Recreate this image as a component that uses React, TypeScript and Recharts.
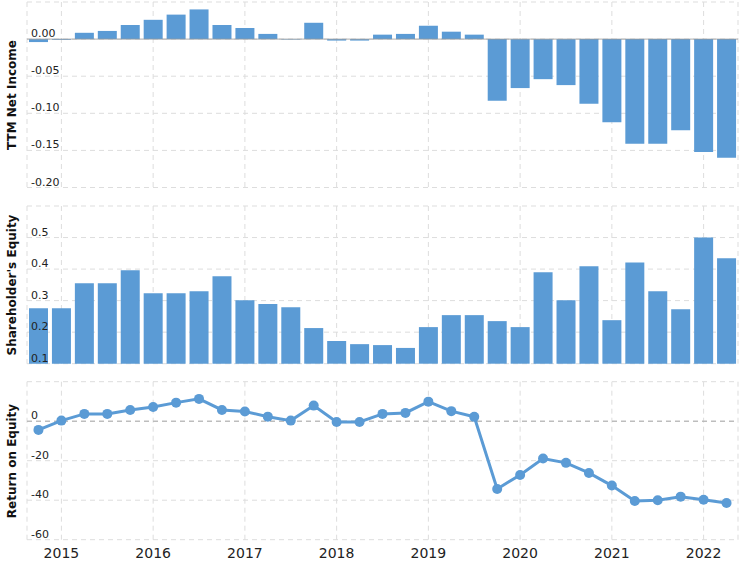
import {
  BarChart,
  Bar,
  LineChart,
  Line,
  XAxis,
  YAxis,
  CartesianGrid,
  ReferenceLine,
} from 'recharts'

// quarter ends, one bar / point each
const quarters = [
  '2014-09-30', '2014-12-31',
  '2015-03-31', '2015-06-30', '2015-09-30', '2015-12-31',
  '2016-03-31', '2016-06-30', '2016-09-30', '2016-12-31',
  '2017-03-31', '2017-06-30', '2017-09-30', '2017-12-31',
  '2018-03-31', '2018-06-30', '2018-09-30', '2018-12-31',
  '2019-03-31', '2019-06-30', '2019-09-30', '2019-12-31',
  '2020-03-31', '2020-06-30', '2020-09-30', '2020-12-31',
  '2021-03-31', '2021-06-30', '2021-09-30', '2021-12-31',
  '2022-03-31',
]

const yearQuarters = [
  '2014-12-31', '2015-12-31', '2016-12-31', '2017-12-31',
  '2018-12-31', '2019-12-31', '2020-12-31', '2021-12-31',
]
const yearLabels = ['2015', '2016', '2017', '2018', '2019', '2020', '2021', '2022']

const netIncome = [
  -0.004, -0.001, 0.0085, 0.011, 0.019, 0.026, 0.033, 0.04, 0.019, 0.015,
  0.007, -0.0006, 0.022, -0.002, -0.002, 0.006, 0.007, 0.018, 0.01, 0.006,
  -0.083, -0.066, -0.054, -0.062, -0.087, -0.112, -0.141, -0.141, -0.123, -0.152,
  -0.16,
]

const equity = [
  0.276, 0.276, 0.355, 0.355, 0.396, 0.323, 0.323, 0.33, 0.377, 0.301,
  0.289, 0.279, 0.213, 0.172, 0.162, 0.159, 0.15, 0.216, 0.254, 0.254,
  0.235, 0.216, 0.39, 0.301, 0.409, 0.238, 0.421, 0.33, 0.273, 0.5,
  0.434,
]

const roe = [
  -4.4, 0.3, 3.7, 3.7, 5.7, 7.2, 9.4, 11.3, 5.7, 4.9,
  2.3, 0.3, 7.9, -0.4, -0.4, 3.7, 4.2, 9.9, 5.1, 2.2,
  -34.3, -27.2, -18.9, -21.1, -26.2, -32.6, -40.4, -40.0, -38.2, -39.8,
  -41.4,
]

const incomeTicks = [-0.2, -0.15, -0.1, -0.05, 0, 0.05]
const equityTicks = [0.1, 0.2, 0.3, 0.4, 0.5, 0.6]
const roeTicks = [-60, -40, -20, 0, 20]

const data = quarters.map((q, i) => ({
  q,
  income: netIncome[i],
  equity: equity[i],
  roe: roe[i],
}))

const BLUE = '#5b9bd5'
const GRID = '#dddddd'
const FONT = '"DejaVu Sans", Verdana, sans-serif'
const W = 744
const MARGIN_L = 27
const MARGIN_R = 6
const HALF_BAND = (W - MARGIN_L - MARGIN_R) / quarters.length / 2

function insideTick(format: (v: number) => string, skip: number) {
  return (props: any) => {
    const { y, payload } = props
    if (Math.abs(payload.value - skip) < 1e-9) return <g />
    return (
      <text x={31} y={y - 2} fontSize={11} fill="#222" fontFamily={FONT}>
        {format(payload.value)}
      </text>
    )
  }
}

function yearTick(q: string) {
  const idx = yearQuarters.indexOf(q)
  return idx >= 0 ? yearLabels[idx] : ''
}

function Title({ text, cy }: { text: string; cy: number }) {
  return (
    <div
      style={{
        position: 'absolute',
        left: 11.5,
        top: cy,
        transform: 'translate(-50%, -50%) rotate(-90deg)',
        whiteSpace: 'nowrap',
        fontFamily: FONT,
        fontWeight: 'bold',
        fontSize: 12,
        color: '#111',
      }}
    >
      {text}
    </div>
  )
}

export default function App() {
  return (
    <div style={{ position: 'absolute', left: 0, top: 0, width: W, height: 566, background: '#fff' }}>
      <div style={{ position: 'absolute', left: 0, top: 0 }}>
        <BarChart width={W} height={190} data={data} margin={{ top: 2, right: MARGIN_R, left: MARGIN_L, bottom: 2.5 }} barSize={19}>
          <CartesianGrid stroke={GRID} strokeDasharray="5 4" />
          <XAxis dataKey="q" hide ticks={yearQuarters} />
          <YAxis
            mirror
            width={40}
            domain={[-0.2, 0.05]}
            ticks={incomeTicks}
            interval={0}
            axisLine={false}
            tickLine={false}
            tick={insideTick((v) => v.toFixed(2), 0.05)}
          />
          <Bar dataKey="income" fill={BLUE} isAnimationActive={false} />
          <ReferenceLine y={0} stroke="#999" strokeOpacity={0.8} />
        </BarChart>
      </div>
      <div style={{ position: 'absolute', left: 0, top: 200 }}>
        <BarChart width={W} height={170} data={data} margin={{ top: 6, right: MARGIN_R, left: MARGIN_L, bottom: 6.3 }} barSize={19}>
          <CartesianGrid stroke={GRID} strokeDasharray="5 4" />
          <XAxis dataKey="q" hide ticks={yearQuarters} />
          <YAxis
            mirror
            width={40}
            domain={[0.1, 0.6]}
            ticks={equityTicks}
            interval={0}
            axisLine={false}
            tickLine={false}
            tick={insideTick((v) => v.toFixed(1), 0.6)}
          />
          <Bar dataKey="equity" fill={BLUE} isAnimationActive={false} />
        </BarChart>
      </div>
      <div style={{ position: 'absolute', left: 0, top: 375 }}>
        <LineChart width={W} height={191} data={data} margin={{ top: 6.7, right: MARGIN_R, left: MARGIN_L, bottom: 6.3 }}>
          <CartesianGrid stroke={GRID} strokeDasharray="5 4" />
          <XAxis
            dataKey="q"
            height={20}
            ticks={yearQuarters}
            padding={{ left: HALF_BAND, right: HALF_BAND }}
            interval={0}
            axisLine={false}
            tickLine={false}
            tickFormatter={yearTick}
            tick={{ fontSize: 14, fill: '#222', fontFamily: FONT }}
          />
          <YAxis
            mirror
            width={40}
            domain={[-60, 20]}
            ticks={roeTicks}
            interval={0}
            axisLine={false}
            tickLine={false}
            tick={insideTick((v) => String(v), 20)}
          />
          <ReferenceLine y={0} stroke="#aaa" strokeDasharray="5 4" />
          <Line
            dataKey="roe"
            stroke={BLUE}
            strokeWidth={3}
            dot={{ r: 5, fill: BLUE, stroke: BLUE, strokeWidth: 0 }}
            isAnimationActive={false}
          />
        </LineChart>
      </div>
      <Title text="TTM Net Income" cy={94.5} />
      <Title text="Shareholder's Equity" cy={285} />
      <Title text="Return on Equity" cy={461} />
    </div>
  )
}
